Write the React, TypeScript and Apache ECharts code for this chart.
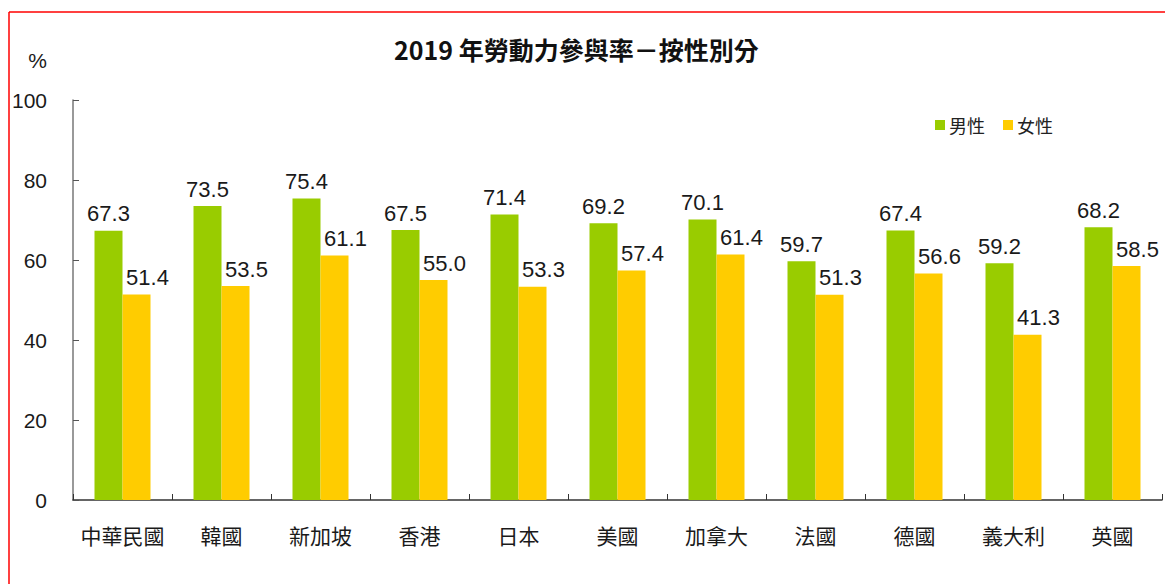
import React, { useEffect, useRef } from "react";
import * as echarts from "echarts";

const categories = ["中華民國", "韓國", "新加坡", "香港", "日本", "美國", "加拿大", "法國", "德國", "義大利", "英國"];
const maleValues = [67.3, 73.5, 75.4, 67.5, 71.4, 69.2, 70.1, 59.7, 67.4, 59.2, 68.2];
const femaleValues = [51.4, 53.5, 61.1, 55.0, 53.3, 57.4, 61.4, 51.3, 56.6, 41.3, 58.5];
const seriesNames = ["男性", "女性"];
const titleText = "2019 年勞動力參與率－按性別分";

const CJK = "'Noto Sans CJK TC', 'Noto Sans CJK SC', sans-serif";
const NUM = "'Liberation Sans', Arial, sans-serif";

export default function App() {
  const ref = useRef<HTMLDivElement>(null);
  useEffect(() => {
    if (!ref.current) return;
    const chart = echarts.init(ref.current, null, { renderer: "svg" });
    const labelStyle = {
      show: true,
      position: "top",
      distance: 6,
      fontFamily: NUM,
      fontSize: 22,
      color: "#1a1a1a",
      formatter: (p: any) => Number(p.value).toFixed(1),
    };
    chart.setOption({
      animation: false,
      backgroundColor: "#fff",
      title: {
        text: titleText,
        left: 389,
        top: 31,
        textStyle: { fontFamily: CJK, fontSize: 25, fontWeight: "bold", color: "#111" },
      },
      legend: {
        left: 930,
        top: 111,
        itemWidth: 10,
        itemHeight: 10,
        itemGap: 18,
        icon: "rect",
        textStyle: { fontFamily: CJK, fontSize: 18, color: "#222", padding: [0, 0, 0, -1] },
        data: seriesNames,
      },
      grid: { left: 73, right: 3, top: 100, bottom: 84, containLabel: false },
      xAxis: {
        type: "category",
        data: categories,
        axisLine: { show: true, lineStyle: { color: "#333", width: 1.5 } },
        axisTick: { show: true, inside: true, length: 6, alignWithLabel: false, lineStyle: { color: "#333" } },
        axisLabel: { fontFamily: CJK, fontSize: 21, color: "#1a1a1a", margin: 24, interval: 0 },
      },
      yAxis: {
        type: "value",
        min: 0,
        max: 100,
        interval: 20,
        splitLine: { show: false },
        axisLine: { show: true, lineStyle: { color: "#777", width: 1.5 } },
        axisTick: { show: true, inside: true, length: 6, lineStyle: { color: "#555" } },
        axisLabel: { fontFamily: NUM, fontSize: 21, color: "#1a1a1a", margin: 26 },
      },
      graphic: [
        { type: "line", shape: { x1: 9, y1: 12, x2: 1165, y2: 12 }, style: { stroke: "#ff0000", lineWidth: 1.5 } },
        { type: "line", shape: { x1: 9, y1: 12, x2: 9, y2: 584 }, style: { stroke: "#ff0000", lineWidth: 1.5 } },
        {
          type: "text",
          x: 47,
          y: 60,
          style: { text: "%", fontFamily: NUM, fontSize: 21, fill: "#1a1a1a", textAlign: "right", textVerticalAlign: "middle" },
        },
      ],
      series: [
        {
          name: seriesNames[0],
          type: "bar",
          data: maleValues,
          barWidth: 28,
          barGap: "0%",
          itemStyle: { color: "#99CC00" },
          label: labelStyle,
        },
        {
          name: seriesNames[1],
          type: "bar",
          data: femaleValues,
          barWidth: 28,
          barGap: "0%",
          itemStyle: { color: "#FFCC00" },
          label: { ...labelStyle, offset: [11, 0] },
        },
      ],
    });
    return () => chart.dispose();
  }, []);
  return <div ref={ref} style={{ position: "absolute", left: 0, top: 0, width: 1165, height: 584 }} />;
}
